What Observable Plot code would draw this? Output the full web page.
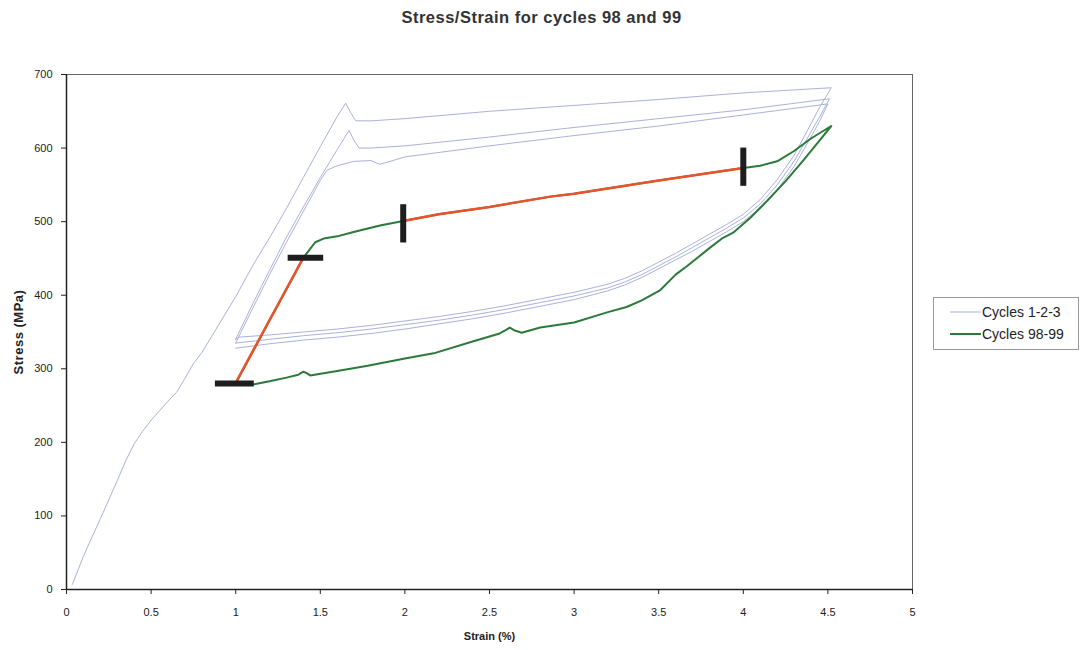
<!DOCTYPE html>
<html>
<head>
<meta charset="utf-8">
<script src="https://cdn.jsdelivr.net/npm/d3@7"></script>
<script src="https://cdn.jsdelivr.net/npm/@observablehq/plot@0.6"></script>
<style>
  html, body { margin: 0; padding: 0; background: #fff; }
  #wrap { position: relative; width: 1083px; height: 650px; font-family: "Liberation Sans", Arial, sans-serif; }
  #title { position: absolute; left: 0; width: 1083px; top: 8px; text-align: center; font-weight: bold; font-size: 16.5px; letter-spacing: 0.5px; color: #333; }
  #legend { position: absolute; left: 933px; top: 297px; width: 146px; height: 53px; border: 1px solid #9a9a9a; box-sizing: border-box; font-size: 14px; color: #222; }
  #legend .item { position: absolute; left: 16px; display: flex; align-items: center; }
  #legend svg { display: block; margin-right: 1px; }
</style>
</head>
<body>
<div id="wrap">
  <div id="title">Stress/Strain for cycles 98 and 99</div>
  <div id="chart"></div>
  <div id="legend">
    <div class="item" style="top:6px"><svg width="31" height="10"><line x1="0" x2="31" y1="5" y2="5" stroke="#a9b2da" stroke-width="1"/></svg><span>Cycles 1-2-3</span></div>
    <div class="item" style="top:28px"><svg width="31" height="10"><line x1="0" x2="31" y1="5" y2="5" stroke="#2b7a3b" stroke-width="2"/></svg><span>Cycles 98-99</span></div>
  </div>
</div>
<script>
// ---- Data ----
const xTicks = [0, 0.5, 1, 1.5, 2, 2.5, 3, 3.5, 4, 4.5, 5];
const yTicks = [0, 100, 200, 300, 400, 500, 600, 700];

// Cycle 1: initial loading, plateau, unloading
const cycle1Strain = [0.035,0.1,0.15,0.2,0.25,0.3,0.35,0.4,0.45,0.5,0.55,0.6,0.65,0.7,0.75,0.8,0.9,1.0,1.1,1.2,1.3,1.4,1.5,1.6,1.65,1.68,1.71,1.8,2.0,2.5,3.0,3.5,4.0,4.52,4.45,4.4,4.3,4.2,4.1,4.0,3.9,3.8,3.7,3.6,3.5,3.4,3.3,3.2,3.0,2.8,2.6,2.4,2.2,2.0,1.8,1.6,1.4,1.2,1.02,1.0];
const cycle1Stress = [7,45,71,96,122,148,175,198,215,230,243,256,268,287,307,322,360,398,440,478,518,560,602,643,661,648,637,637,640,650,658,666,675,682,655,633,590,557,530,510,496,483,470,457,445,433,423,415,404,395,386,378,371,365,359,354,350,346,343,340];

// Cycle 2: reload, plateau, unloading
const cycle2Strain = [1.0,1.1,1.2,1.3,1.4,1.5,1.6,1.67,1.7,1.73,1.8,2.0,2.5,3.0,3.5,4.0,4.51,4.45,4.4,4.3,4.2,4.1,4.0,3.9,3.8,3.7,3.6,3.5,3.4,3.3,3.2,3.0,2.8,2.6,2.4,2.2,2.0,1.8,1.6,1.4,1.2,1.0];
const cycle2Stress = [340,388,434,479,520,560,598,624,610,600,600,603,615,628,640,652,667,642,622,582,550,524,505,491,478,465,452,440,428,418,410,399,390,381,373,366,360,354,349,345,340,335];

// Cycle 3: reload, plateau, unloading
const cycle3Strain = [1.0,1.1,1.2,1.3,1.4,1.5,1.54,1.6,1.7,1.8,1.85,1.9,2.0,2.5,3.0,3.5,4.0,4.5,4.45,4.4,4.3,4.2,4.1,4.0,3.9,3.8,3.7,3.6,3.5,3.4,3.3,3.2,3.0,2.8,2.6,2.4,2.2,2.0,1.8,1.6,1.4,1.2,1.0];
const cycle3Stress = [335,382,428,472,514,556,570,576,582,583,578,581,588,603,617,630,645,660,636,615,575,543,518,500,486,473,460,448,436,424,414,406,394,385,376,368,361,354,348,343,339,334,328];

// Cycles 98-99: loading branch then unloading branch
const cycle98Strain = [1.0,1.1,1.2,1.3,1.4,1.44,1.47,1.52,1.6,1.68,1.75,1.86,1.99,2.2,2.5,2.86,3.0,3.5,4.0,4.1,4.2,4.3,4.4,4.52,4.45,4.35,4.25,4.14,4.04,3.94,3.88,3.8,3.67,3.6,3.51,3.4,3.31,3.2,3.0,2.8,2.69,2.65,2.62,2.59,2.56,2.4,2.17,2.0,1.78,1.6,1.44,1.42,1.40,1.37,1.3,1.2,1.11];
const cycle98Stress = [280,323,366,408,451,463,472,477,480,485,489,495,501,510,520,534,538,556,573,576,582,596,613,630,610,582,555,528,505,485,478,464,440,428,407,393,384,377,363,356,349,352,356,352,348,337,321,314,304,297,291,294,296,292,288,283,279];

// Highlighted (red) segments
const redStrain1 = [1.0, 1.4];
const redStress1 = [281, 451];
const redStrain2 = [1.99, 2.2, 2.5, 2.86, 3.0, 3.5, 4.0];
const redStress2 = [501, 510, 520, 534, 538, 556, 573];

// Black markers
const hMarkY = [280, 451];
const hMarkX1 = [0.88, 1.31];
const hMarkX2 = [1.11, 1.52];
const vMarkX = [1.99, 4.0];
const vMarkY1 = [471, 548];
const vMarkY2 = [523, 600];

// ---- Build tables ----
const pts = (xs, ys) => xs.map((x, i) => ({x, y: ys[i]}));
const c1 = pts(cycle1Strain, cycle1Stress);
const c2 = pts(cycle2Strain, cycle2Stress);
const c3 = pts(cycle3Strain, cycle3Stress);
const c98 = pts(cycle98Strain, cycle98Stress);
const r1 = pts(redStrain1, redStress1);
const r2 = pts(redStrain2, redStress2);
const hMarks = hMarkY.map((y, i) => ({y, x1: hMarkX1[i], x2: hMarkX2[i]}));
const vMarks = vMarkX.map((x, i) => ({x, y1: vMarkY1[i], y2: vMarkY2[i]}));

const blue = "#a9b2da";
const green = "#2b7a3b";
const red = "#e8532b";

const chart = Plot.plot({
  width: 1083,
  height: 650,
  marginLeft: 66,
  marginRight: 171,
  marginTop: 74,
  marginBottom: 61,
  style: {fontFamily: "'Liberation Sans', Arial, sans-serif", fontSize: "11px", color: "#222", background: "#fff"},
  x: {domain: [0, 5]},
  y: {domain: [0, 700]},
  marks: [
    Plot.frame({stroke: "#666"}),
    Plot.line(c1, {x: "x", y: "y", stroke: blue, strokeWidth: 1}),
    Plot.line(c2, {x: "x", y: "y", stroke: blue, strokeWidth: 1}),
    Plot.line(c3, {x: "x", y: "y", stroke: blue, strokeWidth: 1}),
    Plot.line(c98, {x: "x", y: "y", stroke: green, strokeWidth: 2}),
    Plot.line(r1, {x: "x", y: "y", stroke: red, strokeWidth: 2.5}),
    Plot.line(r2, {x: "x", y: "y", stroke: red, strokeWidth: 2.5}),
    Plot.ruleY(hMarks, {y: "y", x1: "x1", x2: "x2", stroke: "#1e1e1e", strokeWidth: 6}),
    Plot.ruleX(vMarks, {x: "x", y1: "y1", y2: "y2", stroke: "#1e1e1e", strokeWidth: 6}),
    Plot.ruleX([0], {stroke: "#222", strokeWidth: 1.5}),
    Plot.ruleY([0], {stroke: "#222", strokeWidth: 1.5}),
    Plot.axisX({ticks: xTicks, tickSize: 5, tickPadding: 14, tickFormat: d => String(d), label: "Strain (%)", labelAnchor: "center", labelArrow: "none", labelOffset: 50}),
    Plot.axisY({ticks: yTicks, tickSize: 5, tickPadding: 9, tickFormat: d => String(d), label: "Stress (MPa)", labelAnchor: "center", labelArrow: "none", labelOffset: 53})
  ]
});
document.getElementById("chart").appendChild(chart);
d3.select(chart).selectAll('[aria-label="x-axis label"] text, [aria-label="y-axis label"] text').attr("font-weight", "bold");
d3.select(chart).selectAll('[aria-label="y-axis label"] text').attr("font-size", "13px").attr("letter-spacing", "0.5px");
</script>
</body>
</html>
